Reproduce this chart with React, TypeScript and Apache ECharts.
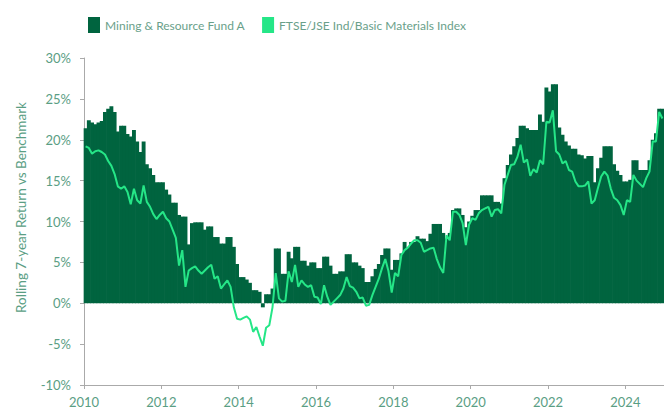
import React, { useEffect, useRef } from "react";
import * as echarts from "echarts";

const START_YEAR = 2010;
const END_YEAR = 2025;

const fundValues: number[] = [
  21.4, 22.4, 22.1, 21.9, 22.1, 22.3, 23.4, 23.8, 24.1, 23.4, 21.0, 21.7,
  21.7, 20.7, 20.4, 21.2, 19.8, 18.5, 19.8, 17.0, 16.5, 15.7, 14.8, 14.8,
  14.8, 13.9, 13.3, 12.3, 12.3, 10.8, 10.6, 10.6, 7.2, 9.8, 9.9, 9.9,
  9.9, 9.0, 9.4, 9.4, 8.1, 8.1, 7.3, 7.3, 8.1, 8.1, 6.9, 4.8,
  3.2, 3.2, 2.9, 2.5, 1.6, 1.6, 1.4, -0.5, 1.1, 1.1, 1.8, 6.7,
  6.7, 3.6, 3.6, 6.3, 5.5, 6.9, 6.9, 5.2, 5.2, 4.6, 5.0, 5.0,
  4.3, 4.3, 5.7, 5.7, 4.6, 3.6, 3.6, 3.9, 3.9, 6.0, 6.0, 5.0,
  5.0, 4.6, 4.3, 2.6, 2.6, 3.3, 4.2, 4.8, 5.9, 6.7, 6.7, 4.1,
  5.3, 5.3, 6.1, 7.5, 6.8, 7.5, 7.5, 8.2, 7.9, 7.9, 7.6, 8.5,
  9.7, 9.7, 9.7, 8.6, 7.9, 8.6, 11.4, 11.6, 11.6, 10.8, 9.3, 10.0,
  10.7, 11.4, 11.4, 13.2, 13.2, 13.2, 13.2, 12.4, 12.4, 12.2, 15.3, 16.9,
  18.2, 19.2, 20.2, 21.7, 21.7, 21.4, 21.2, 21.2, 21.2, 23.1, 22.2, 26.4,
  25.9, 26.8, 26.8, 21.5, 20.6, 19.8, 19.3, 18.9, 18.9, 18.2, 18.1, 17.7,
  18.0, 18.0, 14.8, 16.5, 17.8, 19.2, 19.2, 19.2, 17.0, 16.2, 15.7, 14.9,
  14.9, 15.1, 17.5, 17.5, 16.3, 16.3, 16.3, 17.5, 20.0, 20.8, 23.8, 23.8,
];

const indexValues: number[] = [
  19.2, 19.0, 18.3, 18.6, 18.7, 18.5, 18.2, 17.4, 16.8, 15.8, 14.3, 14.0,
  14.3, 13.6, 12.1, 14.0, 12.6, 12.2, 14.4, 12.4, 11.8, 10.9, 10.3, 10.8,
  11.2, 10.4, 10.0, 9.0, 8.0, 4.6, 6.5, 2.0, 4.0, 4.3, 4.5, 4.0,
  3.6, 4.0, 4.4, 4.7, 3.0, 3.3, 1.8, 2.3, 2.8, 2.0, -0.5, -1.9,
  -2.0, -1.8, -1.6, -2.0, -3.5, -2.9, -4.1, -5.2, -3.0, -2.7, -0.5, 3.7,
  0.6, 0.2, 0.3, 3.9, 2.6, 4.7, 2.0, 2.8, 2.3, 2.0, 2.2, 0.8,
  0.7, -0.1, 2.2, 0.8, -0.2, 0.2, 0.6, 1.0, 1.8, 3.2, 2.1, 1.9,
  1.4, 0.6, 0.7, -0.3, -0.2, 1.0, 2.0, 3.0, 4.3, 5.4, 3.9, 1.3,
  3.7, 3.3, 5.9, 6.5, 6.8, 7.3, 7.7, 7.7, 7.4, 6.3, 6.5, 6.7,
  6.8, 5.4, 4.4, 3.7, 8.3, 7.7, 11.2, 11.2, 10.8, 9.8, 7.1, 9.6,
  10.4, 10.2, 11.0, 11.4, 11.6, 11.8, 10.6, 11.4, 11.5, 11.0, 14.5, 15.7,
  16.9, 17.0, 17.9, 19.4, 17.2, 17.6, 15.6, 16.4, 16.0, 17.5, 17.0, 22.2,
  22.1, 23.6, 18.6, 18.2, 17.1, 17.4, 16.3, 16.1, 14.9, 14.3, 14.3, 14.4,
  14.9, 12.2, 12.6, 14.1, 15.5, 16.1, 15.6, 14.0, 12.9, 12.6, 12.0, 10.8,
  12.6, 12.4, 15.7, 15.0, 14.6, 14.2, 15.3, 16.1, 19.8, 19.8, 23.4, 22.6,
];

const seriesNames = ["Mining & Resource Fund A", "FTSE/JSE Ind/Basic Materials Index"];
const yTicks = { min: -10, max: 30, interval: 5 };

const monthX = (i: number) => START_YEAR + (i + 0.5) / 12;

export default function App() {
  const ref = useRef<HTMLDivElement>(null);
  useEffect(() => {
    document.body.style.margin = "0";
    if (!ref.current) return;
    const chart = echarts.init(ref.current, undefined, { renderer: "svg" });
    const labelColor = "#5a9e84";
    const font = "Lato";
    chart.setOption({
      animation: false,
      textStyle: { fontFamily: font },
      legend: {
        top: 12,
        left: 83,
        itemWidth: 12,
        itemHeight: 16,
        itemGap: 17,
        icon: "rect",
        textStyle: { color: "#6a9f8a", fontSize: 12, fontFamily: font },
        data: seriesNames,
      },
      grid: { left: 84, right: 0, top: 58, bottom: 26 },
      xAxis: {
        type: "value",
        min: START_YEAR,
        max: END_YEAR,
        interval: 2,
        axisLine: { onZero: false, lineStyle: { color: "#aaaaaa", width: 1 } },
        axisTick: { show: true, length: 4, lineStyle: { color: "#aaaaaa" } },
        axisLabel: {
          color: labelColor,
          fontSize: 13,
          fontFamily: font,
          margin: 10,
          showMaxLabel: false,
          formatter: (v: number) => String(v),
        },
        splitLine: { show: false },
      },
      yAxis: {
        type: "value",
        min: yTicks.min,
        max: yTicks.max,
        interval: yTicks.interval,
        name: "Rolling 7-year Return vs Benchmark",
        nameLocation: "middle",
        nameGap: 56,
        nameTextStyle: { color: labelColor, fontSize: 13.5, fontFamily: font, padding: [0, 0, 0, 28] },
        axisLine: { show: true, onZero: false, lineStyle: { color: "#aaaaaa", width: 1 } },
        axisTick: { show: true, length: 4, lineStyle: { color: "#aaaaaa" } },
        axisLabel: { color: labelColor, fontSize: 13, fontFamily: font, margin: 13, formatter: "{value}%" },
        splitLine: { show: false },
      },
      series: [
        {
          name: seriesNames[0],
          type: "bar",
          barWidth: 3.9,
          itemStyle: { color: "#00643f" },
          data: fundValues.map((v, i) => [monthX(i), v]),
          z: 2,
        },
        {
          name: seriesNames[1],
          type: "line",
          symbol: "none",
          lineStyle: { color: "#25e687", width: 2 },
          itemStyle: { color: "#25e687" },
          data: indexValues.map((v, i) => [monthX(i), v]),
          z: 3,
        },
      ],
    });
    return () => chart.dispose();
  }, []);
  return <div ref={ref} style={{ width: 664, height: 411 }} />;
}
